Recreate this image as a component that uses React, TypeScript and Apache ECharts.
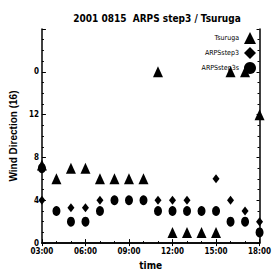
import React, { useEffect, useRef } from "react";
import * as echarts from "echarts";

const hours = [3, 4, 5, 6, 7, 8, 9, 10, 11, 12, 13, 14, 15, 16, 17, 18];
const tsuruga = [7.3, 6, 7, 7, 6, 6, 6, 6, 16, 1, 1, 1, 1, 16, 16, 12];
const arpsStep3 = [4, 3, 3.3, 3.3, 4, 4, 4, 4, 4, 4, 4, 3, 6, 4, 3, 2];
const arpsStep3s = [7, 3, 2, 2, 3, 4, 4, 4, 3, 3, 3, 3, 3, 2, 2, 1];
const yTicks = [0, 4, 8, 12, 16];
const yTickLabels = ["0", "4", "8", "12", "0"];
const xTickLabels = ["03:00", "06:00", "09:00", "12:00", "15:00", "18:00"];

const FONT = "'DejaVu Sans Condensed', 'Liberation Sans Narrow', sans-serif";

export default function App() {
  const ref = useRef<HTMLDivElement>(null);
  useEffect(() => {
    if (!ref.current) return;
    const chart = echarts.init(ref.current, null, { renderer: "svg" });
    const pair = (vals: number[]) => hours.map((h, i) => [h, vals[i]]);
    const axisLine = { show: true, lineStyle: { color: "#000", width: 1.5 } };
    const legendText = { color: "#000", fontFamily: FONT, fontSize: 7 };
    chart.setOption({
      animation: false,
      backgroundColor: "#fff",
      color: ["#000", "#000", "#000"],
      title: {
        text: "2001 0815  ARPS step3 / Tsuruga",
        left: 152,
        textAlign: "center",
        top: 8,
        textStyle: { fontFamily: FONT, fontSize: 10, fontWeight: "bold", color: "#000" },
      },
      legend: {
        orient: "vertical",
        right: 13,
        top: 27,
        align: "right",
        itemGap: 3,
        itemWidth: 12,
        itemHeight: 12,
        textStyle: legendText,
        data: [
          { name: "Tsuruga", icon: "triangle" },
          { name: "ARPSstep3", icon: "diamond" },
          { name: "ARPSstep3s", icon: "circle" },
        ],
      },
      grid: { left: 37, right: 7, top: 29, bottom: 21 },
      xAxis: [
        {
          type: "value",
          min: 3,
          max: 18,
          interval: 3,
          name: "time",
          nameLocation: "middle",
          nameGap: 12,
          nameTextStyle: { fontFamily: FONT, fontSize: 10, fontWeight: "bold", color: "#000" },
          axisLine,
          axisTick: { show: true, inside: true, length: 4, lineStyle: { color: "#000" } },
          minorTick: { show: true, splitNumber: 3, length: 2, lineStyle: { color: "#000" } },
          splitLine: { show: false },
          axisLabel: {
            fontFamily: FONT,
            fontSize: 8,
            fontWeight: "bold",
            color: "#000",
            margin: 4,
            formatter: (v: number) => xTickLabels[Math.round((v - 3) / 3)] ?? "",
          },
        },
        {
          type: "value",
          position: "top",
          min: 3,
          max: 18,
          interval: 3,
          axisLine,
          axisTick: { show: true, inside: true, length: 3, lineStyle: { color: "#000" } },
          axisLabel: { show: false },
          splitLine: { show: false },
        },
      ],
      yAxis: [
        {
          type: "value",
          min: 0,
          max: 20,
          interval: 4,
          name: "Wind Direction (16)",
          nameLocation: "middle",
          nameGap: 20,
          nameTextStyle: { fontFamily: "'Liberation Sans', Arial, sans-serif", fontSize: 10, fontWeight: "bold", color: "#000" },
          axisLine,
          axisTick: { show: true, inside: true, length: 4, lineStyle: { color: "#000" } },
          minorTick: { show: true, splitNumber: 4, length: 2, lineStyle: { color: "#000" } },
          splitLine: { show: false },
          axisLabel: {
            fontFamily: FONT,
            fontSize: 8,
            fontWeight: "bold",
            color: "#000",
            margin: 3,
            formatter: (v: number) => {
              const i = yTicks.indexOf(v);
              return i >= 0 ? yTickLabels[i] : "";
            },
          },
        },
        {
          type: "value",
          position: "right",
          min: 0,
          max: 20,
          interval: 4,
          axisLine,
          axisTick: { show: true, inside: true, length: 3, lineStyle: { color: "#000" } },
          minorTick: { show: true, splitNumber: 4, length: 2, lineStyle: { color: "#000" } },
          axisLabel: { show: false },
          splitLine: { show: false },
        },
      ],
      series: [
        {
          name: "ARPSstep3s",
          type: "scatter",
          symbol: "circle",
          symbolSize: [8, 10],
          itemStyle: { color: "#000", opacity: 1 },
          data: pair(arpsStep3s),
          z: 2,
        },
        {
          name: "ARPSstep3",
          type: "scatter",
          symbol: "diamond",
          symbolSize: [7, 9],
          itemStyle: { color: "#000", opacity: 1 },
          data: pair(arpsStep3),
          z: 3,
        },
        {
          name: "Tsuruga",
          type: "scatter",
          symbol: "triangle",
          symbolSize: [10, 11],
          itemStyle: { color: "#000", opacity: 1 },
          data: pair(tsuruga),
          z: 4,
        },
      ],
    });
    return () => chart.dispose();
  }, []);
  return <div ref={ref} style={{ width: 274, height: 275, position: "absolute", left: 0, top: 0 }} />;
}
